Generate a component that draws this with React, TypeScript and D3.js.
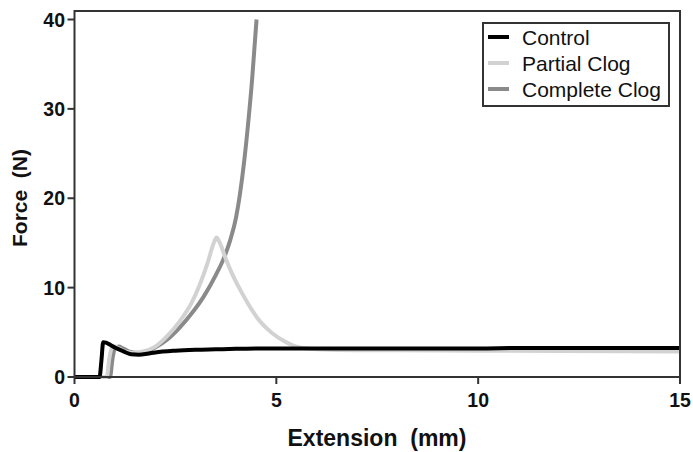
import React from "react";
import * as d3 from "d3";

const xTicks = [0, 5, 10, 15];
const yTicks = [0, 10, 20, 30, 40];
const seriesNames = ["Control", "Partial Clog", "Complete Clog"];
const seriesColors = ["#000000", "#d2d2d2", "#8a8a8a"];

const controlData: [number, number][] = [
  [0, 0], [0.62, 0], [0.67, 2], [0.71, 3.9], [0.78, 3.85], [0.9, 3.55], [1.0, 3.3],
  [1.2, 2.9], [1.4, 2.55], [1.6, 2.5], [1.8, 2.6], [2.0, 2.75], [2.5, 2.95],
  [3.0, 3.05], [3.5, 3.1], [4.0, 3.15], [5, 3.2], [6, 3.2], [7, 3.2], [8, 3.2],
  [9, 3.2], [10, 3.2], [11, 3.25], [12, 3.25], [13, 3.25], [14, 3.25], [15, 3.25],
];

const partialData: [number, number][] = [
  [0, 0], [0.8, 0], [0.86, 2], [0.92, 3.2], [1.0, 3.4], [1.1, 3.2], [1.3, 2.8],
  [1.5, 2.7], [1.7, 2.85], [2.0, 3.4], [2.3, 4.6], [2.6, 6.2], [2.9, 8.3],
  [3.1, 10.3], [3.3, 12.8], [3.45, 15], [3.52, 15.6], [3.6, 15], [3.75, 13.2],
  [3.9, 11.6], [4.1, 9.8], [4.3, 8.2], [4.6, 6.2], [4.9, 4.9], [5.2, 4.0],
  [5.5, 3.4], [6, 3.1], [7, 3.0], [8, 3.0], [10, 2.95], [12, 2.9], [15, 2.85],
];

const completeData: [number, number][] = [
  [0, 0], [0.88, 0], [0.94, 2], [1.0, 3.2], [1.1, 3.4], [1.2, 3.2], [1.4, 2.8],
  [1.6, 2.7], [1.8, 2.9], [2.0, 3.3], [2.3, 4.2], [2.6, 5.5], [2.9, 7.1],
  [3.2, 9.0], [3.5, 11.4], [3.7, 13.3], [3.85, 15.2], [4.0, 17.8], [4.1, 20.5],
  [4.2, 24.0], [4.3, 28.3], [4.4, 33.3], [4.48, 38.2], [4.51, 40],
];

const allSeries = [controlData, partialData, completeData];

export default function App() {
  const W = 693;
  const H = 452;
  const x = d3.scaleLinear().domain([0, 15]).range([74.5, 680]);
  const y = d3.scaleLinear().domain([0, 40]).range([377, 19.5]);
  const frameTop = 11;
  const line = d3
    .line<[number, number]>()
    .x((d) => x(d[0]))
    .y((d) => y(d[1]))
    .curve(d3.curveMonotoneX);
  const font = "Arial, 'Liberation Sans', Helvetica, sans-serif";
  const drawOrder = [2, 1, 0];
  return (
    <svg
      width={W}
      height={H}
      style={{ position: "fixed", left: 0, top: 0, background: "#fff" }}
      fontFamily={font}
    >
      <rect x={0} y={0} width={W} height={H} fill="#fff" />
      {drawOrder.map((i) => (
        <path
          key={i}
          d={line(allSeries[i]) || ""}
          fill="none"
          stroke={seriesColors[i]}
          strokeWidth={4}
          strokeLinejoin="round"
        />
      ))}
      <path
        d={`M${x(0)},${frameTop}H${x(15)}V${y(0)}H${x(0)}Z`}
        fill="none"
        stroke="#333"
        strokeWidth={2}
      />
      {xTicks.map((t) => (
        <g key={"x" + t}>
          <line x1={x(t)} x2={x(t)} y1={y(0)} y2={y(0) + 7} stroke="#333" strokeWidth={2} />
          <text
            x={x(t)}
            y={407}
            textAnchor="middle"
            fontSize={19.5}
            fontWeight="bold"
            fill="#111"
          >
            {t}
          </text>
        </g>
      ))}
      {yTicks.map((t) => (
        <g key={"y" + t}>
          <line x1={x(0) - 7} x2={x(0)} y1={y(t)} y2={y(t)} stroke="#333" strokeWidth={2} />
          <text
            x={65}
            y={y(t)}
            dy="0.36em"
            textAnchor="end"
            fontSize={19.5}
            fontWeight="bold"
            fill="#111"
          >
            {t}
          </text>
        </g>
      ))}
      <text
        x={377}
        y={446}
        textAnchor="middle"
        fontSize={23}
        fontWeight="bold"
        fill="#111"
        style={{ whiteSpace: "pre" }}
      >
        {"Extension  (mm)"}
      </text>
      <text
        transform={`translate(27,198) rotate(-90)`}
        textAnchor="middle"
        fontSize={21}
        fontWeight="bold"
        fill="#111"
        style={{ whiteSpace: "pre" }}
      >
        {"Force  (N)"}
      </text>
      <rect x={483} y={23} width={186} height={83} fill="#fff" stroke="#333" strokeWidth={2} />
      {seriesNames.map((name, i) => (
        <g key={name}>
          <line
            x1={488}
            x2={509}
            y1={37 + i * 26}
            y2={37 + i * 26}
            stroke={seriesColors[i]}
            strokeWidth={4}
          />
          <text x={522} y={37 + i * 26} dy="0.36em" fontSize={21} fill="#111">
            {name}
          </text>
        </g>
      ))}
    </svg>
  );
}
